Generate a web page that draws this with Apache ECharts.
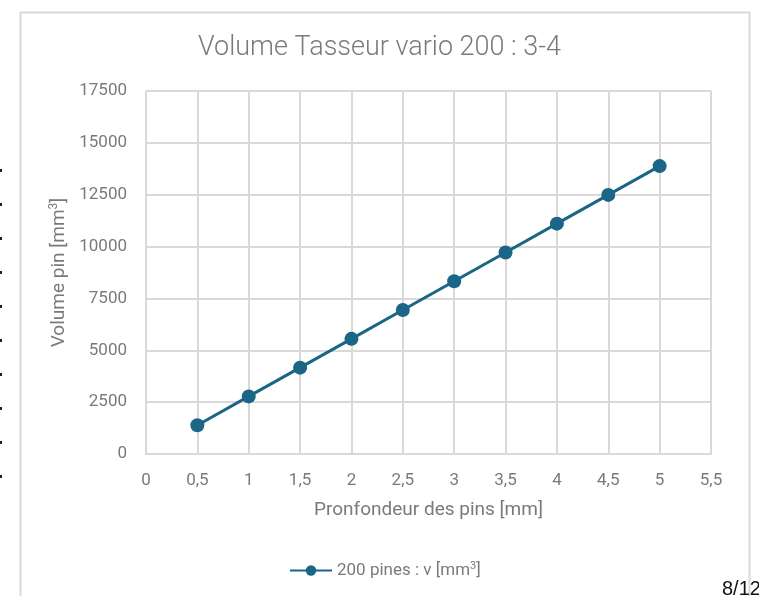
<!DOCTYPE html>
<html>
<head>
<meta charset="utf-8">
<script src="https://cdn.jsdelivr.net/npm/echarts@6/dist/echarts.min.js"></script>
<style>
html,body{margin:0;padding:0;background:#fff;}
#c{width:759px;height:596px;}
</style>
</head>
<body>
<div id="c"></div>
<script>
var depths = [0.5, 1, 1.5, 2, 2.5, 3, 3.5, 4, 4.5, 5];
var volumes = [1388, 2776, 4164, 5552, 6940, 8328, 9716, 11104, 12492, 13880];
var seriesName = '200 pines : v [mm3]';
var titleText = 'Volume Tasseur vario 200 : 3-4';
var xAxisTitle = 'Pronfondeur des pins [mm]';
var pageMark = '8/12';

var font = 'Roboto, "Open Sans", sans-serif';
var grey = '#7a7a7a';
var lineColor = '#1b6586';

var marks = [];
for (var i = 0; i < 10; i++) {
  marks.push({type:'rect', left:0, top:169 + i*34, shape:{width:2, height:3}, style:{fill:'#222'}, silent:true});
}

var chart = echarts.init(document.getElementById('c'), null, {renderer:'canvas'});
chart.setOption({
  animation:false,
  backgroundColor:'#fff',
  title:{
    text:titleText, left:'center', top:30,
    textStyle:{fontFamily:font, fontSize:27, fontWeight:300, color:grey}
  },
  grid:{left:146, right:48, top:91, bottom:142, containLabel:false},
  legend:{
    left:284, top:556,
    itemWidth:42, itemHeight:13, itemGap:10,
    data:[seriesName],
    formatter:function(){ return '{t|200 pines : v [mm}{s|3}{t|]}'; },
    textStyle:{
      fontFamily:font, fontSize:17, color:grey,
      rich:{
        t:{fontFamily:font, fontSize:17, color:grey},
        s:{fontFamily:font, fontSize:11, color:grey, verticalAlign:'top', padding:[0,0,8,0]}
      }
    }
  },
  xAxis:{
    type:'value', min:0, max:5.5, interval:0.5,
    name:xAxisTitle, nameLocation:'middle', nameGap:47,
    nameTextStyle:{fontFamily:font, fontSize:19, color:grey},
    axisLine:{show:true, lineStyle:{color:'#d9d9d9', width:2}},
    axisTick:{show:false},
    axisLabel:{fontFamily:font, fontSize:17, color:grey, margin:18,
      formatter:function(v){ return String(v).replace('.', ','); }},
    splitLine:{show:true, lineStyle:{color:'#d9d9d9', width:2}}
  },
  yAxis:{
    type:'value', min:0, max:17500, interval:2500,
    name:'{t|Volume pin [mm}{s|3}{t|]}', nameLocation:'middle', nameGap:76, nameRotate:90,
    nameTextStyle:{fontFamily:font, fontSize:19, color:grey,
      rich:{
        t:{fontFamily:font, fontSize:19, color:grey},
        s:{fontFamily:font, fontSize:12, color:grey, verticalAlign:'top', padding:[0,0,9,0]}
      }},
    axisLine:{show:false},
    axisTick:{show:false},
    axisLabel:{fontFamily:font, fontSize:17, color:grey, margin:19,
      formatter:function(v){ return String(v); }},
    splitLine:{show:true, lineStyle:{color:'#d9d9d9', width:2}}
  },
  series:[{
    name:seriesName, type:'line',
    data:depths.map(function(d, i){ return [d, volumes[i]]; }),
    symbol:'circle', symbolSize:14,
    lineStyle:{color:lineColor, width:3},
    itemStyle:{color:lineColor},
    z:5
  }],
  graphic:[
    {type:'rect', left:18, top:10, shape:{width:729, height:600}, style:{fill:'none', stroke:'#d9d9d9', lineWidth:2}, silent:true, z:-1},
    {type:'text', left:722, top:579, style:{text:pageMark, font:'20px "Liberation Sans", Arial, sans-serif', fill:'#111'}, silent:true}
  ].concat(marks)
});
</script>
</body>
</html>
